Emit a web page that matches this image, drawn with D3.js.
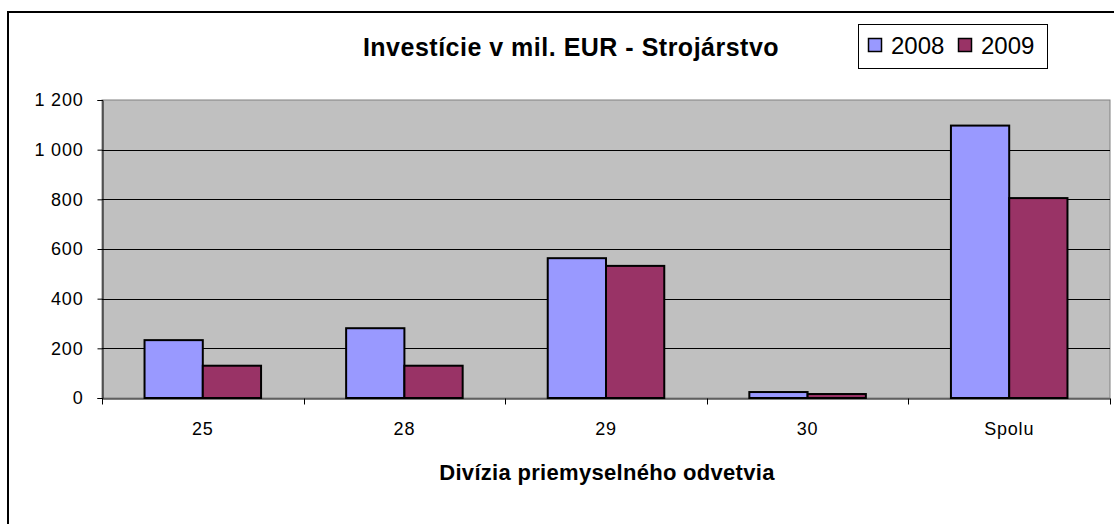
<!DOCTYPE html>
<html>
<head>
<meta charset="utf-8">
<script src="https://cdn.jsdelivr.net/npm/d3@7"></script>
<style>
  body { margin: 0; background: #fff; }
  svg { display: block; font-family: Arial, "Liberation Sans", sans-serif; }
</style>
</head>
<body>
<div id="chart"></div>
<script>
var categories = ['25', '28', '29', '30', 'Spolu'];
var seriesNames = ['2008', '2009'];
var values2008 = [233, 281, 563, 24, 1097];
var values2009 = [130, 130, 532, 16, 805];
var yTicks = [0, 200, 400, 600, 800, 1000, 1200];
var colors = ['#9999ff', '#993366'];

var W = 1114, H = 524;
var plot = {left: 102, top: 100, right: 1110, bottom: 398};

var svg = d3.select('#chart').append('svg')
    .attr('width', W)
    .attr('height', H);

// outer frame (only top and left edges are visible in the picture)
svg.append('path')
    .attr('d', 'M8,' + (H + 2) + 'V12H' + (W + 2))
    .attr('fill', 'none')
    .attr('stroke', '#000')
    .attr('stroke-width', 2);

var x0 = d3.scaleBand().domain(categories).range([plot.left, plot.right]);
var x1 = d3.scaleBand().domain(seriesNames).range([0, x0.bandwidth()]).paddingOuter(0.73).paddingInner(0);
var y = d3.scaleLinear().domain([0, 1200]).range([plot.bottom, plot.top]);

// plot background
svg.append('rect')
    .attr('x', plot.left)
    .attr('y', plot.top)
    .attr('width', plot.right - plot.left)
    .attr('height', plot.bottom - plot.top)
    .attr('fill', '#c0c0c0')
    .attr('stroke', '#808080')
    .attr('stroke-width', 1);

// gridlines
svg.append('g')
    .selectAll('line')
    .data(yTicks.filter(function(d){ return d > 0 && d < 1200; }))
    .enter().append('line')
    .attr('x1', plot.left)
    .attr('x2', plot.right)
    .attr('y1', function(d){ return Math.round(y(d)) + 0.5; })
    .attr('y2', function(d){ return Math.round(y(d)) + 0.5; })
    .attr('stroke', '#000')
    .attr('stroke-width', 1);

// bars
var rows = categories.map(function(c, i){
    return {cat: c, vals: [values2008[i], values2009[i]]};
});
var groups = svg.append('g').selectAll('g')
    .data(rows)
    .enter().append('g')
    .attr('transform', function(d){ return 'translate(' + x0(d.cat) + ',0)'; });
groups.selectAll('rect')
    .data(function(d){ return d.vals.map(function(v, j){ return {s: seriesNames[j], v: v, j: j}; }); })
    .enter().append('rect')
    .attr('x', function(d){ return x1(d.s); })
    .attr('y', function(d){ return y(d.v); })
    .attr('width', x1.bandwidth())
    .attr('height', function(d){ return y(0) - y(d.v); })
    .attr('fill', function(d){ return colors[d.j]; })
    .attr('stroke', '#000')
    .attr('stroke-width', 2);

// y axis
var yAxis = d3.axisLeft(y)
    .tickValues(yTicks)
    .tickSize(5)
    .tickFormat(function(d){ return d3.format(',')(d).replace(/,/g, ' '); });
var yg = svg.append('g')
    .attr('transform', 'translate(' + (plot.left + 0.5) + ',0)')
    .call(yAxis);
yg.select('.domain').attr('stroke', '#000');
yg.selectAll('text')
    .attr('font-size', 18)
    .attr('letter-spacing', 0.8)
    .attr('font-family', 'Arial, "Liberation Sans", sans-serif')
    .attr('fill', '#000')
    .attr('x', -19);

// x axis
var xAxis = d3.axisBottom(x0).tickSize(0).tickSizeOuter(0);
var xg = svg.append('g')
    .attr('transform', 'translate(0,' + (plot.bottom + 0.5) + ')')
    .call(xAxis);
xg.select('.domain').attr('stroke', '#000');
xg.selectAll('text')
    .attr('font-size', 18)
    .attr('letter-spacing', 0.8)
    .attr('font-family', 'Arial, "Liberation Sans", sans-serif')
    .attr('fill', '#000')
    .attr('dy', 0)
    .attr('y', 36);
// category separator ticks
var sepTicks = categories.map(function(c){ return x0(c); }).concat([plot.right]);
xg.selectAll('.sep')
    .data(sepTicks)
    .enter().append('line')
    .attr('class', 'sep')
    .attr('x1', function(d){ return Math.round(d) + 0.5; })
    .attr('x2', function(d){ return Math.round(d) + 0.5; })
    .attr('y1', 0)
    .attr('y2', 6)
    .attr('stroke', '#000');

// title
svg.append('text')
    .attr('x', 571)
    .attr('y', 56)
    .attr('text-anchor', 'middle')
    .attr('font-size', 25)
    .attr('font-weight', 'bold')
    .attr('letter-spacing', 0.5)
    .text('Investície v mil. EUR - Strojárstvo');

// x axis title
svg.append('text')
    .attr('x', 607)
    .attr('y', 480)
    .attr('text-anchor', 'middle')
    .attr('font-size', 22)
    .attr('font-weight', 'bold')
    .attr('letter-spacing', 0.3)
    .text('Divízia priemyselného odvetvia');

// legend
var legend = svg.append('g').attr('transform', 'translate(858,24)');
legend.append('rect')
    .attr('x', 0.5)
    .attr('y', 0.5)
    .attr('width', 189)
    .attr('height', 44)
    .attr('fill', '#fff')
    .attr('stroke', '#000')
    .attr('stroke-width', 1);
var items = legend.selectAll('.item')
    .data(seriesNames)
    .enter().append('g')
    .attr('class', 'item')
    .attr('transform', function(d, i){ return 'translate(' + (10 + i * 90) + ',0)'; });
items.append('rect')
    .attr('x', 0.5)
    .attr('y', 14.5)
    .attr('width', 13)
    .attr('height', 13)
    .attr('fill', function(d, i){ return colors[i]; })
    .attr('stroke', '#000')
    .attr('stroke-width', 1.5);
items.append('text')
    .attr('x', 23)
    .attr('y', 30)
    .attr('font-size', 24)
    .text(function(d){ return d; });
</script>
</body>
</html>
